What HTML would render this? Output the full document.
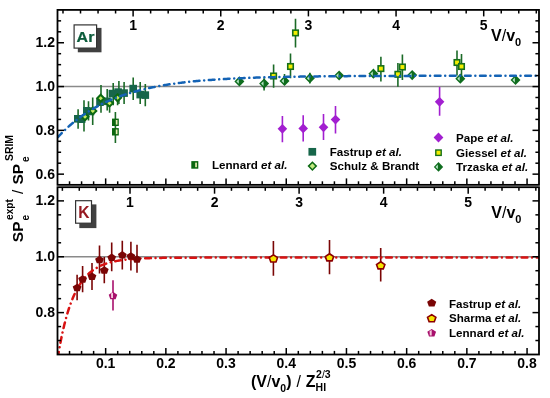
<!DOCTYPE html>
<html><head><meta charset="utf-8"><style>
html,body{margin:0;padding:0;background:#fff;}
svg{display:block;}
</style></head><body>
<svg width="550" height="398" viewBox="0 0 550 398" style="will-change:transform">
<rect width="550" height="398" fill="#fff"/>
<line x1="57.5" y1="86.55" x2="539" y2="86.55" stroke="#8a8a8a" stroke-width="1.5"/>
<line x1="57.5" y1="256.75" x2="539" y2="256.75" stroke="#8a8a8a" stroke-width="1.5"/>
<defs><clipPath id="ct"><rect x="57.5" y="9.9" width="481.5" height="175.2"/></clipPath><clipPath id="cb"><rect x="57.5" y="186.9" width="481.5" height="167.6"/></clipPath></defs>
<g clip-path="url(#ct)">
<line x1="78.1" y1="109.3" x2="78.1" y2="128.7" stroke="#1b6a27" stroke-width="1.6"/>
<line x1="84" y1="100.3" x2="84" y2="131.4" stroke="#1b6a27" stroke-width="1.6"/>
<line x1="88.5" y1="101.2" x2="88.5" y2="120.5" stroke="#1b6a27" stroke-width="1.6"/>
<line x1="92.7" y1="97.4" x2="92.7" y2="125.1" stroke="#1b6a27" stroke-width="1.6"/>
<line x1="101" y1="85" x2="101" y2="112.7" stroke="#1b6a27" stroke-width="1.6"/>
<line x1="107.2" y1="89" x2="107.2" y2="110.5" stroke="#1b6a27" stroke-width="1.6"/>
<line x1="109.6" y1="98.6" x2="109.6" y2="112.7" stroke="#1b6a27" stroke-width="1.6"/>
<line x1="113.2" y1="83" x2="113.2" y2="105.2" stroke="#1b6a27" stroke-width="1.6"/>
<line x1="117.6" y1="95" x2="117.6" y2="105.2" stroke="#1b6a27" stroke-width="1.6"/>
<line x1="118.9" y1="81" x2="118.9" y2="104.1" stroke="#1b6a27" stroke-width="1.6"/>
<line x1="124.1" y1="82" x2="124.1" y2="104.1" stroke="#1b6a27" stroke-width="1.6"/>
<line x1="133.2" y1="77.5" x2="133.2" y2="100.1" stroke="#1b6a27" stroke-width="1.6"/>
<line x1="140.2" y1="82" x2="140.2" y2="104.1" stroke="#1b6a27" stroke-width="1.6"/>
<line x1="145.3" y1="84" x2="145.3" y2="106.2" stroke="#1b6a27" stroke-width="1.6"/>
<line x1="264.1" y1="78.2" x2="264.1" y2="90.4" stroke="#1b6a27" stroke-width="1.6"/>
<line x1="284.5" y1="74.1" x2="284.5" y2="85" stroke="#1b6a27" stroke-width="1.6"/>
<line x1="309.9" y1="72.7" x2="309.9" y2="83.6" stroke="#1b6a27" stroke-width="1.6"/>
<line x1="273.6" y1="64.5" x2="273.6" y2="87.7" stroke="#1b6a27" stroke-width="1.6"/>
<line x1="290.5" y1="53.6" x2="290.5" y2="78.2" stroke="#1b6a27" stroke-width="1.6"/>
<line x1="295.5" y1="18.8" x2="295.5" y2="47.4" stroke="#1b6a27" stroke-width="1.6"/>
<line x1="380.9" y1="56.8" x2="380.9" y2="81.6" stroke="#1b6a27" stroke-width="1.6"/>
<line x1="397.9" y1="63" x2="397.9" y2="86.7" stroke="#1b6a27" stroke-width="1.6"/>
<line x1="402.4" y1="54.5" x2="402.4" y2="80" stroke="#1b6a27" stroke-width="1.6"/>
<line x1="457" y1="50.4" x2="457" y2="75.5" stroke="#1b6a27" stroke-width="1.6"/>
<line x1="461.5" y1="54" x2="461.5" y2="76.6" stroke="#1b6a27" stroke-width="1.6"/>
<line x1="115.4" y1="111.9" x2="115.4" y2="142.9" stroke="#1b6a27" stroke-width="1.6"/>
<line x1="282.4" y1="116" x2="282.4" y2="142.2" stroke="#a21fd0" stroke-width="1.6"/>
<line x1="303.2" y1="115.3" x2="303.2" y2="141.5" stroke="#a21fd0" stroke-width="1.6"/>
<line x1="323.5" y1="114.1" x2="323.5" y2="140" stroke="#a21fd0" stroke-width="1.6"/>
<line x1="335.5" y1="106.1" x2="335.5" y2="133.5" stroke="#a21fd0" stroke-width="1.6"/>
<line x1="439.6" y1="87" x2="439.6" y2="115.7" stroke="#a21fd0" stroke-width="1.6"/>
<rect x="74" y="115" width="7.6" height="7.6" fill="#17664a"/>
<rect x="77.8" y="115.4" width="7.6" height="7.6" fill="#17664a"/>
<rect x="83" y="107" width="7.6" height="7.6" fill="#17664a"/>
<rect x="86.7" y="107.7" width="7.6" height="7.6" fill="#17664a"/>
<rect x="96.2" y="98.4" width="7.6" height="7.6" fill="#17664a"/>
<rect x="103.2" y="97.5" width="7.6" height="7.6" fill="#17664a"/>
<rect x="108.6" y="89.8" width="7.6" height="7.6" fill="#17664a"/>
<rect x="114.3" y="88.3" width="7.6" height="7.6" fill="#17664a"/>
<rect x="120.3" y="89.3" width="7.6" height="7.6" fill="#17664a"/>
<rect x="129.4" y="84.8" width="7.6" height="7.6" fill="#17664a"/>
<rect x="136.4" y="90.8" width="7.6" height="7.6" fill="#17664a"/>
<rect x="141.5" y="91.3" width="7.6" height="7.6" fill="#17664a"/>
<polygon points="85,113.3 88.5,116.8 85,120.3 81.5,116.8" fill="#c6e860" stroke="#0b6a12" stroke-width="2.0" stroke-linejoin="miter"/>
<polygon points="92.8,107.4 96.3,110.9 92.8,114.4 89.3,110.9" fill="#c6e860" stroke="#0b6a12" stroke-width="2.0" stroke-linejoin="miter"/>
<polygon points="100.7,94.7 104.2,98.2 100.7,101.7 97.2,98.2" fill="#c6e860" stroke="#0b6a12" stroke-width="2.0" stroke-linejoin="miter"/>
<polygon points="109.5,99.6 113,103.1 109.5,106.6 106,103.1" fill="#c6e860" stroke="#0b6a12" stroke-width="2.0" stroke-linejoin="miter"/>
<polygon points="117.6,94.3 121.1,97.8 117.6,101.3 114.1,97.8" fill="#c6e860" stroke="#0b6a12" stroke-width="2.0" stroke-linejoin="miter"/>
<polygon points="239.4,76.3 244.4,81.4 239.4,86.5 234.4,81.4" fill="#0f6d1e"/>
<polygon points="236.4,81.4 238.8,79 238.8,83.8" fill="#b5e6c6"/>
<polygon points="264.1,78.5 269.1,83.6 264.1,88.7 259.1,83.6" fill="#0f6d1e"/>
<polygon points="261.1,83.6 263.5,81.2 263.5,86" fill="#b5e6c6"/>
<polygon points="284.5,75.8 289.5,80.9 284.5,86 279.5,80.9" fill="#0f6d1e"/>
<polygon points="281.5,80.9 283.9,78.5 283.9,83.3" fill="#b5e6c6"/>
<polygon points="309.9,73.1 314.9,78.2 309.9,83.3 304.9,78.2" fill="#0f6d1e"/>
<polygon points="306.9,78.2 309.3,75.8 309.3,80.6" fill="#b5e6c6"/>
<polygon points="339.1,70.4 344.1,75.5 339.1,80.6 334.1,75.5" fill="#0f6d1e"/>
<polygon points="336.1,75.5 338.5,73.1 338.5,77.9" fill="#b5e6c6"/>
<polygon points="373.4,68.6 378.4,73.7 373.4,78.8 368.4,73.7" fill="#0f6d1e"/>
<polygon points="370.4,73.7 372.8,71.3 372.8,76.1" fill="#b5e6c6"/>
<polygon points="412.2,70 417.2,75.1 412.2,80.2 407.2,75.1" fill="#0f6d1e"/>
<polygon points="409.2,75.1 411.6,72.7 411.6,77.5" fill="#b5e6c6"/>
<polygon points="460.3,73.6 465.3,78.7 460.3,83.8 455.3,78.7" fill="#0f6d1e"/>
<polygon points="457.3,78.7 459.7,76.3 459.7,81.1" fill="#b5e6c6"/>
<polygon points="515.5,74.9 520.5,80 515.5,85.1 510.5,80" fill="#0f6d1e"/>
<polygon points="512.5,80 514.9,77.6 514.9,82.4" fill="#b5e6c6"/>
<rect x="270.85" y="73.25" width="5.5" height="5.5" fill="#f2ee00" stroke="#16701a" stroke-width="1.6"/>
<rect x="287.75" y="63.75" width="5.5" height="5.5" fill="#f2ee00" stroke="#16701a" stroke-width="1.6"/>
<rect x="292.75" y="30.15" width="5.5" height="5.5" fill="#f2ee00" stroke="#16701a" stroke-width="1.6"/>
<rect x="378.15" y="65.85" width="5.5" height="5.5" fill="#f2ee00" stroke="#16701a" stroke-width="1.6"/>
<rect x="395.15" y="71.55" width="5.5" height="5.5" fill="#f2ee00" stroke="#16701a" stroke-width="1.6"/>
<rect x="399.65" y="64.25" width="5.5" height="5.5" fill="#f2ee00" stroke="#16701a" stroke-width="1.6"/>
<rect x="454.25" y="59.75" width="5.5" height="5.5" fill="#f2ee00" stroke="#16701a" stroke-width="1.6"/>
<rect x="458.75" y="63.75" width="5.5" height="5.5" fill="#f2ee00" stroke="#16701a" stroke-width="1.6"/>
<rect x="112" y="118.6" width="6.8" height="7.4" fill="#0b660f"/>
<rect x="115.8" y="120" width="1.7" height="4.6" fill="#e6ecb0"/>
<rect x="112" y="128.1" width="6.8" height="7.4" fill="#0b660f"/>
<rect x="115.8" y="129.5" width="1.7" height="4.6" fill="#e6ecb0"/>
<polygon points="282.4,123.9 287.2,128.8 282.4,133.7 277.6,128.8" fill="#a21fd0"/>
<polygon points="303.2,123.5 308,128.4 303.2,133.3 298.4,128.4" fill="#a21fd0"/>
<polygon points="323.5,122.4 328.3,127.3 323.5,132.2 318.7,127.3" fill="#a21fd0"/>
<polygon points="335.5,114.7 340.3,119.6 335.5,124.5 330.7,119.6" fill="#a21fd0"/>
<polygon points="439.6,96.9 444.4,101.8 439.6,106.7 434.8,101.8" fill="#a21fd0"/>
<polyline points="57.2,137.86 57.2,137.86 57.21,137.85 57.23,137.83 57.25,137.81 57.27,137.78 57.31,137.74 57.35,137.7 57.39,137.65 57.44,137.59 57.5,137.53 57.56,137.46 57.63,137.39 57.71,137.31 57.79,137.22 57.88,137.12 57.97,137.02 58.07,136.92 58.18,136.8 58.29,136.68 58.4,136.56 58.53,136.42 58.66,136.29 58.79,136.14 58.93,135.99 59.08,135.84 59.24,135.67 59.4,135.5 59.56,135.33 59.73,135.15 59.91,134.96 60.1,134.77 60.29,134.58 60.48,134.37 60.68,134.17 60.89,133.95 61.1,133.73 61.32,133.51 61.55,133.28 61.78,133.05 62.02,132.81 62.27,132.56 62.52,132.31 62.77,132.06 63.03,131.8 63.3,131.53 63.58,131.27 63.86,130.99 64.14,130.71 64.44,130.43 64.73,130.15 65.04,129.86 65.35,129.56 65.66,129.26 65.99,128.96 66.32,128.65 66.65,128.34 66.99,128.03 67.34,127.71 67.69,127.39 68.05,127.06 68.41,126.73 68.78,126.4 69.16,126.07 69.54,125.73 69.93,125.39 70.33,125.04 70.73,124.7 71.13,124.35 71.55,124 71.97,123.64 72.39,123.29 72.82,122.93 73.26,122.56 73.7,122.2 74.15,121.84 74.61,121.47 75.07,121.1 75.53,120.73 76.01,120.35 76.49,119.98 76.97,119.6 77.46,119.23 77.96,118.85 78.46,118.47 78.97,118.08 79.49,117.7 80.01,117.32 80.54,116.94 81.07,116.55 81.61,116.16 82.16,115.78 82.71,115.39 83.27,115 83.83,114.62 84.4,114.23 84.97,113.84 85.56,113.45 86.14,113.07 86.74,112.68 87.34,112.29 87.94,111.9 88.55,111.51 89.17,111.13 89.8,110.74 90.43,110.36 91.06,109.97 91.7,109.59 92.35,109.2 93.01,108.82 93.67,108.44 94.33,108.06 95,107.68 95.68,107.3 96.37,106.92 97.06,106.54 97.75,106.17 98.45,105.79 99.16,105.42 99.88,105.05 100.6,104.68 101.32,104.32 102.06,103.95 102.79,103.59 103.54,103.22 104.29,102.86 105.05,102.5 105.81,102.15 106.58,101.79 107.35,101.44 108.13,101.09 108.92,100.74 109.71,100.39 110.51,100.05 111.31,99.71 112.12,99.37 112.94,99.03 113.76,98.7 114.59,98.36 115.43,98.04 116.27,97.71 117.12,97.38 117.97,97.06 118.83,96.74 119.69,96.42 120.56,96.11 121.44,95.8 122.32,95.49 123.21,95.18 124.11,94.88 125.01,94.58 125.92,94.28 126.83,93.98 127.75,93.69 128.67,93.4 129.6,93.11 130.54,92.83 131.49,92.55 132.43,92.27 133.39,91.99 134.35,91.72 135.32,91.45 136.29,91.19 137.27,90.92 138.26,90.66 139.25,90.4 140.25,90.15 141.25,89.9 142.26,89.65 143.28,89.4 144.3,89.16 145.32,88.92 146.36,88.68 147.4,88.44 148.44,88.21 149.5,87.98 150.55,87.76 151.62,87.54 152.69,87.32 153.76,87.1 154.84,86.89 155.93,86.67 157.03,86.47 158.13,86.26 159.23,86.06 160.35,85.86 161.46,85.66 162.59,85.47 163.72,85.28 164.85,85.09 166,84.9 167.14,84.72 168.3,84.54 169.46,84.36 170.62,84.19 171.8,84.01 172.98,83.84 174.16,83.68 175.35,83.51 176.55,83.35 177.75,83.19 178.96,83.03 180.17,82.88 181.39,82.73 182.62,82.58 183.85,82.43 185.09,82.29 186.34,82.15 187.59,82.01 188.84,81.87 190.11,81.74 191.37,81.61 192.65,81.48 193.93,81.35 195.22,81.22 196.51,81.1 197.81,80.98 199.11,80.86 200.43,80.74 201.74,80.63 203.07,80.52 204.39,80.41 205.73,80.3 207.07,80.19 208.42,80.09 209.77,79.99 211.13,79.89 212.5,79.79 213.87,79.69 215.24,79.6 216.63,79.5 218.02,79.41 219.41,79.33 220.81,79.24 222.22,79.15 223.63,79.07 225.05,78.99 226.48,78.91 227.91,78.83 229.35,78.75 230.79,78.68 232.24,78.6 233.7,78.53 235.16,78.46 236.63,78.39 238.1,78.32 239.58,78.26 241.07,78.19 242.56,78.13 244.06,78.07 245.56,78.01 247.07,77.95 248.58,77.89 250.11,77.83 251.63,77.78 253.17,77.72 254.71,77.67 256.25,77.62 257.81,77.57 259.37,77.52 260.93,77.47 262.5,77.43 264.08,77.38 265.66,77.34 267.25,77.29 268.84,77.25 270.44,77.21 272.05,77.17 273.66,77.13 275.28,77.09 276.9,77.05 278.53,77.01 280.17,76.98 281.81,76.94 283.46,76.91 285.11,76.88 286.78,76.84 288.44,76.81 290.11,76.78 291.79,76.75 293.48,76.72 295.17,76.69 296.87,76.67 298.57,76.64 300.28,76.61 301.99,76.59 303.71,76.56 305.44,76.54 307.17,76.52 308.91,76.49 310.66,76.47 312.41,76.45 314.16,76.43 315.93,76.41 317.7,76.39 319.47,76.37 321.25,76.35 323.04,76.33 324.83,76.31 326.63,76.29 328.44,76.28 330.25,76.26 332.07,76.24 333.89,76.23 335.72,76.21 337.55,76.2 339.4,76.19 341.24,76.17 343.1,76.16 344.96,76.15 346.82,76.13 348.69,76.12 350.57,76.11 352.45,76.1 354.34,76.09 356.24,76.07 358.14,76.06 360.05,76.05 361.96,76.04 363.88,76.03 365.81,76.02 367.74,76.02 369.68,76.01 371.62,76 373.57,75.99 375.53,75.98 377.49,75.97 379.46,75.97 381.43,75.96 383.41,75.95 385.4,75.95 387.39,75.94 389.39,75.93 391.39,75.93 393.4,75.92 395.42,75.91 397.44,75.91 399.47,75.9 401.5,75.9 403.54,75.89 405.59,75.89 407.64,75.88 409.7,75.88 411.77,75.87 413.84,75.87 415.91,75.87 417.99,75.86 420.08,75.86 422.18,75.85 424.28,75.85 426.38,75.85 428.5,75.84 430.62,75.84 432.74,75.84 434.87,75.83 437.01,75.83 439.15,75.83 441.3,75.83 443.45,75.82 445.62,75.82 447.78,75.82 449.96,75.81 452.13,75.81 454.32,75.81 456.51,75.81 458.71,75.81 460.91,75.8 463.12,75.8 465.33,75.8 467.56,75.8 469.78,75.8 472.02,75.8 474.26,75.79 476.5,75.79 478.75,75.79 481.01,75.79 483.27,75.79 485.54,75.79 487.82,75.78 490.1,75.78 492.39,75.78 494.68,75.78 496.98,75.78 499.28,75.78 501.6,75.78 503.91,75.78 506.24,75.78 508.57,75.78 510.9,75.77 513.24,75.77 515.59,75.77 517.95,75.77 520.31,75.77 522.67,75.77 525.04,75.77 527.42,75.77 529.81,75.77 532.2,75.77 534.59,75.77 536.99,75.77 539.4,75.77" fill="none" stroke="#1463b5" stroke-width="2.5" stroke-linecap="round" stroke-dasharray="5.7 4.68 0.01 4.68" stroke-dashoffset="-0.9"/>
</g>
<g clip-path="url(#cb)">
<line x1="77.1" y1="274.8" x2="77.1" y2="300.3" stroke="#7a0505" stroke-width="1.6"/>
<line x1="82.6" y1="265.9" x2="82.6" y2="292.3" stroke="#7a0505" stroke-width="1.6"/>
<line x1="92" y1="262.9" x2="92" y2="290" stroke="#7a0505" stroke-width="1.6"/>
<line x1="99.5" y1="245.6" x2="99.5" y2="273.5" stroke="#7a0505" stroke-width="1.6"/>
<line x1="104.3" y1="256.9" x2="104.3" y2="283.3" stroke="#7a0505" stroke-width="1.6"/>
<line x1="111.7" y1="242.5" x2="111.7" y2="271.2" stroke="#7a0505" stroke-width="1.6"/>
<line x1="122.3" y1="240.7" x2="122.3" y2="269.4" stroke="#7a0505" stroke-width="1.6"/>
<line x1="130.9" y1="241.8" x2="130.9" y2="270.4" stroke="#7a0505" stroke-width="1.6"/>
<line x1="137" y1="244.8" x2="137" y2="272.7" stroke="#7a0505" stroke-width="1.6"/>
<line x1="273.4" y1="241" x2="273.4" y2="275.7" stroke="#7a0505" stroke-width="1.6"/>
<line x1="329.5" y1="240.1" x2="329.5" y2="274.3" stroke="#7a0505" stroke-width="1.6"/>
<line x1="380.7" y1="248.1" x2="380.7" y2="281.5" stroke="#7a0505" stroke-width="1.6"/>
<line x1="113" y1="280.2" x2="113" y2="310.4" stroke="#a8106c" stroke-width="1.6"/>
<polyline points="57.2,361.6 57.2,361.58 57.21,361.52 57.23,361.42 57.25,361.28 57.27,361.11 57.31,360.89 57.35,360.64 57.39,360.35 57.44,360.02 57.5,359.66 57.56,359.26 57.63,358.82 57.71,358.34 57.79,357.83 57.88,357.29 57.97,356.71 58.07,356.1 58.18,355.46 58.29,354.78 58.4,354.08 58.53,353.34 58.66,352.57 58.79,351.78 58.93,350.96 59.08,350.11 59.24,349.23 59.4,348.34 59.56,347.41 59.73,346.47 59.91,345.5 60.1,344.51 60.29,343.5 60.48,342.47 60.68,341.43 60.89,340.36 61.1,339.29 61.32,338.19 61.55,337.09 61.78,335.97 62.02,334.84 62.27,333.7 62.52,332.55 62.77,331.39 63.03,330.22 63.3,329.05 63.58,327.87 63.86,326.68 64.14,325.5 64.44,324.31 64.73,323.12 65.04,321.92 65.35,320.73 65.66,319.54 65.99,318.35 66.32,317.16 66.65,315.98 66.99,314.8 67.34,313.62 67.69,312.45 68.05,311.29 68.41,310.13 68.78,308.99 69.16,307.85 69.54,306.71 69.93,305.59 70.33,304.48 70.73,303.38 71.13,302.29 71.55,301.21 71.97,300.14 72.39,299.09 72.82,298.05 73.26,297.02 73.7,296.01 74.15,295 74.61,294.02 75.07,293.05 75.53,292.09 76.01,291.15 76.49,290.22 76.97,289.31 77.46,288.41 77.96,287.53 78.46,286.67 78.97,285.82 79.49,284.99 80.01,284.17 80.54,283.37 81.07,282.58 81.61,281.82 82.16,281.06 82.71,280.33 83.27,279.61 83.83,278.9 84.4,278.22 84.97,277.55 85.56,276.89 86.14,276.25 86.74,275.63 87.34,275.02 87.94,274.42 88.55,273.84 89.17,273.28 89.8,272.73 90.43,272.2 91.06,271.68 91.7,271.17 92.35,270.68 93.01,270.2 93.67,269.74 94.33,269.29 95,268.85 95.68,268.43 96.37,268.02 97.06,267.62 97.75,267.23 98.45,266.86 99.16,266.5 99.88,266.15 100.6,265.81 101.32,265.48 102.06,265.16 102.79,264.85 103.54,264.56 104.29,264.27 105.05,263.99 105.81,263.72 106.58,263.47 107.35,263.22 108.13,262.98 108.92,262.75 109.71,262.52 110.51,262.31 111.31,262.1 112.12,261.91 112.94,261.71 113.76,261.53 114.59,261.35 115.43,261.18 116.27,261.02 117.12,260.86 117.97,260.71 118.83,260.57 119.69,260.43 120.56,260.3 121.44,260.17 122.32,260.05 123.21,259.93 124.11,259.82 125.01,259.71 125.92,259.61 126.83,259.51 127.75,259.41 128.67,259.32 129.6,259.24 130.54,259.15 131.49,259.08 132.43,259 133.39,258.93 134.35,258.86 135.32,258.79 136.29,258.73 137.27,258.67 138.26,258.62 139.25,258.56 140.25,258.51 141.25,258.46 142.26,258.41 143.28,258.37 144.3,258.33 145.32,258.29 146.36,258.25 147.4,258.21 148.44,258.18 149.5,258.15 150.55,258.11 151.62,258.09 152.69,258.06 153.76,258.03 154.84,258.01 155.93,257.98 157.03,257.96 158.13,257.94 159.23,257.92 160.35,257.9 161.46,257.88 162.59,257.86 163.72,257.85 164.85,257.83 166,257.82 167.14,257.8 168.3,257.79 169.46,257.78 170.62,257.77 171.8,257.75 172.98,257.74 174.16,257.73 175.35,257.72 176.55,257.72 177.75,257.71 178.96,257.7 180.17,257.69 181.39,257.69 182.62,257.68 183.85,257.67 185.09,257.67 186.34,257.66 187.59,257.66 188.84,257.65 190.11,257.65 191.37,257.64 192.65,257.64 193.93,257.64 195.22,257.63 196.51,257.63 197.81,257.63 199.11,257.62 200.43,257.62 201.74,257.62 203.07,257.62 204.39,257.61 205.73,257.61 207.07,257.61 208.42,257.61 209.77,257.61 211.13,257.6 212.5,257.6 213.87,257.6 215.24,257.6 216.63,257.6 218.02,257.6 219.41,257.6 220.81,257.6 222.22,257.6 223.63,257.59 225.05,257.59 226.48,257.59 227.91,257.59 229.35,257.59 230.79,257.59 232.24,257.59 233.7,257.59 235.16,257.59 236.63,257.59 238.1,257.59 239.58,257.59 241.07,257.59 242.56,257.59 244.06,257.59 245.56,257.59 247.07,257.59 248.58,257.59 250.11,257.59 251.63,257.59 253.17,257.59 254.71,257.59 256.25,257.59 257.81,257.58 259.37,257.58 260.93,257.58 262.5,257.58 264.08,257.58 265.66,257.58 267.25,257.58 268.84,257.58 270.44,257.58 272.05,257.58 273.66,257.58 275.28,257.58 276.9,257.58 278.53,257.58 280.17,257.58 281.81,257.58 283.46,257.58 285.11,257.58 286.78,257.58 288.44,257.58 290.11,257.58 291.79,257.58 293.48,257.58 295.17,257.58 296.87,257.58 298.57,257.58 300.28,257.58 301.99,257.58 303.71,257.58 305.44,257.58 307.17,257.58 308.91,257.58 310.66,257.58 312.41,257.58 314.16,257.58 315.93,257.58 317.7,257.58 319.47,257.58 321.25,257.58 323.04,257.58 324.83,257.58 326.63,257.58 328.44,257.58 330.25,257.58 332.07,257.58 333.89,257.58 335.72,257.58 337.55,257.58 339.4,257.58 341.24,257.58 343.1,257.58 344.96,257.58 346.82,257.58 348.69,257.58 350.57,257.58 352.45,257.58 354.34,257.58 356.24,257.58 358.14,257.58 360.05,257.58 361.96,257.58 363.88,257.58 365.81,257.58 367.74,257.58 369.68,257.58 371.62,257.58 373.57,257.58 375.53,257.58 377.49,257.58 379.46,257.58 381.43,257.58 383.41,257.58 385.4,257.58 387.39,257.58 389.39,257.58 391.39,257.58 393.4,257.58 395.42,257.58 397.44,257.58 399.47,257.58 401.5,257.58 403.54,257.58 405.59,257.58 407.64,257.58 409.7,257.58 411.77,257.58 413.84,257.58 415.91,257.58 417.99,257.58 420.08,257.58 422.18,257.58 424.28,257.58 426.38,257.58 428.5,257.58 430.62,257.58 432.74,257.58 434.87,257.58 437.01,257.58 439.15,257.58 441.3,257.58 443.45,257.58 445.62,257.58 447.78,257.58 449.96,257.58 452.13,257.58 454.32,257.58 456.51,257.58 458.71,257.58 460.91,257.58 463.12,257.58 465.33,257.58 467.56,257.58 469.78,257.58 472.02,257.58 474.26,257.58 476.5,257.58 478.75,257.58 481.01,257.58 483.27,257.58 485.54,257.58 487.82,257.58 490.1,257.58 492.39,257.58 494.68,257.58 496.98,257.58 499.28,257.58 501.6,257.58 503.91,257.58 506.24,257.58 508.57,257.58 510.9,257.58 513.24,257.58 515.59,257.58 517.95,257.58 520.31,257.58 522.67,257.58 525.04,257.58 527.42,257.58 529.81,257.58 532.2,257.58 534.59,257.58 536.99,257.58 539.4,257.58" fill="none" stroke="#d81212" stroke-width="2.5" stroke-linecap="round" stroke-dasharray="5.7 4.675 0.01 4.675" stroke-dashoffset="-4.1"/>
<polygon points="77.1,283.76 81.47,286.62 79.8,291.25 74.4,291.25 72.73,286.62" fill="#7a0505"/>
<polygon points="82.6,275.16 86.97,278.02 85.3,282.65 79.9,282.65 78.23,278.02" fill="#7a0505"/>
<polygon points="92,272.46 96.37,275.32 94.7,279.95 89.3,279.95 87.63,275.32" fill="#7a0505"/>
<polygon points="99.5,255.86 103.87,258.72 102.2,263.35 96.8,263.35 95.13,258.72" fill="#7a0505"/>
<polygon points="104.3,266.26 108.67,269.12 107,273.75 101.6,273.75 99.93,269.12" fill="#7a0505"/>
<polygon points="111.7,253.56 116.07,256.42 114.4,261.05 109,261.05 107.33,256.42" fill="#7a0505"/>
<polygon points="122.3,251.06 126.67,253.92 125,258.55 119.6,258.55 117.93,253.92" fill="#7a0505"/>
<polygon points="130.9,252.26 135.27,255.12 133.6,259.75 128.2,259.75 126.53,255.12" fill="#7a0505"/>
<polygon points="137,255.26 141.37,258.12 139.7,262.75 134.3,262.75 132.63,258.12" fill="#7a0505"/>
<polygon points="273.4,254.84 277.58,257.58 275.99,262 270.81,262 269.22,257.58" fill="#f6e600" stroke="#8c0000" stroke-width="1.6"/>
<polygon points="329.5,253.74 333.68,256.48 332.09,260.9 326.91,260.9 325.32,256.48" fill="#f6e600" stroke="#8c0000" stroke-width="1.6"/>
<polygon points="380.7,261.74 384.88,264.48 383.29,268.9 378.11,268.9 376.52,264.48" fill="#f6e600" stroke="#8c0000" stroke-width="1.6"/>
<polygon points="113,291.85 117.28,294.65 115.65,299.18 110.35,299.18 108.72,294.65" fill="#a8106c"/>
<polygon points="111,293.5 113,292.5 113,298 111.2,298" fill="#f4c8dc"/>
</g>
<line x1="69.54" y1="184.9" x2="69.54" y2="181.3" stroke="#000" stroke-width="1.5"/>
<line x1="81.58" y1="184.9" x2="81.58" y2="181.3" stroke="#000" stroke-width="1.5"/>
<line x1="93.62" y1="184.9" x2="93.62" y2="181.3" stroke="#000" stroke-width="1.5"/>
<line x1="105.66" y1="184.9" x2="105.66" y2="178.4" stroke="#000" stroke-width="1.5"/>
<line x1="117.7" y1="184.9" x2="117.7" y2="181.3" stroke="#000" stroke-width="1.5"/>
<line x1="129.74" y1="184.9" x2="129.74" y2="181.3" stroke="#000" stroke-width="1.5"/>
<line x1="141.78" y1="184.9" x2="141.78" y2="181.3" stroke="#000" stroke-width="1.5"/>
<line x1="153.82" y1="184.9" x2="153.82" y2="181.3" stroke="#000" stroke-width="1.5"/>
<line x1="165.86" y1="184.9" x2="165.86" y2="178.4" stroke="#000" stroke-width="1.5"/>
<line x1="177.9" y1="184.9" x2="177.9" y2="181.3" stroke="#000" stroke-width="1.5"/>
<line x1="189.94" y1="184.9" x2="189.94" y2="181.3" stroke="#000" stroke-width="1.5"/>
<line x1="201.98" y1="184.9" x2="201.98" y2="181.3" stroke="#000" stroke-width="1.5"/>
<line x1="214.02" y1="184.9" x2="214.02" y2="181.3" stroke="#000" stroke-width="1.5"/>
<line x1="226.06" y1="184.9" x2="226.06" y2="178.4" stroke="#000" stroke-width="1.5"/>
<line x1="238.1" y1="184.9" x2="238.1" y2="181.3" stroke="#000" stroke-width="1.5"/>
<line x1="250.14" y1="184.9" x2="250.14" y2="181.3" stroke="#000" stroke-width="1.5"/>
<line x1="262.18" y1="184.9" x2="262.18" y2="181.3" stroke="#000" stroke-width="1.5"/>
<line x1="274.22" y1="184.9" x2="274.22" y2="181.3" stroke="#000" stroke-width="1.5"/>
<line x1="286.26" y1="184.9" x2="286.26" y2="178.4" stroke="#000" stroke-width="1.5"/>
<line x1="298.3" y1="184.9" x2="298.3" y2="181.3" stroke="#000" stroke-width="1.5"/>
<line x1="310.34" y1="184.9" x2="310.34" y2="181.3" stroke="#000" stroke-width="1.5"/>
<line x1="322.38" y1="184.9" x2="322.38" y2="181.3" stroke="#000" stroke-width="1.5"/>
<line x1="334.42" y1="184.9" x2="334.42" y2="181.3" stroke="#000" stroke-width="1.5"/>
<line x1="346.46" y1="184.9" x2="346.46" y2="178.4" stroke="#000" stroke-width="1.5"/>
<line x1="358.5" y1="184.9" x2="358.5" y2="181.3" stroke="#000" stroke-width="1.5"/>
<line x1="370.54" y1="184.9" x2="370.54" y2="181.3" stroke="#000" stroke-width="1.5"/>
<line x1="382.58" y1="184.9" x2="382.58" y2="181.3" stroke="#000" stroke-width="1.5"/>
<line x1="394.62" y1="184.9" x2="394.62" y2="181.3" stroke="#000" stroke-width="1.5"/>
<line x1="406.66" y1="184.9" x2="406.66" y2="178.4" stroke="#000" stroke-width="1.5"/>
<line x1="418.7" y1="184.9" x2="418.7" y2="181.3" stroke="#000" stroke-width="1.5"/>
<line x1="430.74" y1="184.9" x2="430.74" y2="181.3" stroke="#000" stroke-width="1.5"/>
<line x1="442.78" y1="184.9" x2="442.78" y2="181.3" stroke="#000" stroke-width="1.5"/>
<line x1="454.82" y1="184.9" x2="454.82" y2="181.3" stroke="#000" stroke-width="1.5"/>
<line x1="466.86" y1="184.9" x2="466.86" y2="178.4" stroke="#000" stroke-width="1.5"/>
<line x1="478.9" y1="184.9" x2="478.9" y2="181.3" stroke="#000" stroke-width="1.5"/>
<line x1="490.94" y1="184.9" x2="490.94" y2="181.3" stroke="#000" stroke-width="1.5"/>
<line x1="502.98" y1="184.9" x2="502.98" y2="181.3" stroke="#000" stroke-width="1.5"/>
<line x1="515.02" y1="184.9" x2="515.02" y2="181.3" stroke="#000" stroke-width="1.5"/>
<line x1="527.06" y1="184.9" x2="527.06" y2="178.4" stroke="#000" stroke-width="1.5"/>
<line x1="69.54" y1="354.5" x2="69.54" y2="350.9" stroke="#000" stroke-width="1.5"/>
<line x1="81.58" y1="354.5" x2="81.58" y2="350.9" stroke="#000" stroke-width="1.5"/>
<line x1="93.62" y1="354.5" x2="93.62" y2="350.9" stroke="#000" stroke-width="1.5"/>
<line x1="105.66" y1="354.5" x2="105.66" y2="348" stroke="#000" stroke-width="1.5"/>
<line x1="117.7" y1="354.5" x2="117.7" y2="350.9" stroke="#000" stroke-width="1.5"/>
<line x1="129.74" y1="354.5" x2="129.74" y2="350.9" stroke="#000" stroke-width="1.5"/>
<line x1="141.78" y1="354.5" x2="141.78" y2="350.9" stroke="#000" stroke-width="1.5"/>
<line x1="153.82" y1="354.5" x2="153.82" y2="350.9" stroke="#000" stroke-width="1.5"/>
<line x1="165.86" y1="354.5" x2="165.86" y2="348" stroke="#000" stroke-width="1.5"/>
<line x1="177.9" y1="354.5" x2="177.9" y2="350.9" stroke="#000" stroke-width="1.5"/>
<line x1="189.94" y1="354.5" x2="189.94" y2="350.9" stroke="#000" stroke-width="1.5"/>
<line x1="201.98" y1="354.5" x2="201.98" y2="350.9" stroke="#000" stroke-width="1.5"/>
<line x1="214.02" y1="354.5" x2="214.02" y2="350.9" stroke="#000" stroke-width="1.5"/>
<line x1="226.06" y1="354.5" x2="226.06" y2="348" stroke="#000" stroke-width="1.5"/>
<line x1="238.1" y1="354.5" x2="238.1" y2="350.9" stroke="#000" stroke-width="1.5"/>
<line x1="250.14" y1="354.5" x2="250.14" y2="350.9" stroke="#000" stroke-width="1.5"/>
<line x1="262.18" y1="354.5" x2="262.18" y2="350.9" stroke="#000" stroke-width="1.5"/>
<line x1="274.22" y1="354.5" x2="274.22" y2="350.9" stroke="#000" stroke-width="1.5"/>
<line x1="286.26" y1="354.5" x2="286.26" y2="348" stroke="#000" stroke-width="1.5"/>
<line x1="298.3" y1="354.5" x2="298.3" y2="350.9" stroke="#000" stroke-width="1.5"/>
<line x1="310.34" y1="354.5" x2="310.34" y2="350.9" stroke="#000" stroke-width="1.5"/>
<line x1="322.38" y1="354.5" x2="322.38" y2="350.9" stroke="#000" stroke-width="1.5"/>
<line x1="334.42" y1="354.5" x2="334.42" y2="350.9" stroke="#000" stroke-width="1.5"/>
<line x1="346.46" y1="354.5" x2="346.46" y2="348" stroke="#000" stroke-width="1.5"/>
<line x1="358.5" y1="354.5" x2="358.5" y2="350.9" stroke="#000" stroke-width="1.5"/>
<line x1="370.54" y1="354.5" x2="370.54" y2="350.9" stroke="#000" stroke-width="1.5"/>
<line x1="382.58" y1="354.5" x2="382.58" y2="350.9" stroke="#000" stroke-width="1.5"/>
<line x1="394.62" y1="354.5" x2="394.62" y2="350.9" stroke="#000" stroke-width="1.5"/>
<line x1="406.66" y1="354.5" x2="406.66" y2="348" stroke="#000" stroke-width="1.5"/>
<line x1="418.7" y1="354.5" x2="418.7" y2="350.9" stroke="#000" stroke-width="1.5"/>
<line x1="430.74" y1="354.5" x2="430.74" y2="350.9" stroke="#000" stroke-width="1.5"/>
<line x1="442.78" y1="354.5" x2="442.78" y2="350.9" stroke="#000" stroke-width="1.5"/>
<line x1="454.82" y1="354.5" x2="454.82" y2="350.9" stroke="#000" stroke-width="1.5"/>
<line x1="466.86" y1="354.5" x2="466.86" y2="348" stroke="#000" stroke-width="1.5"/>
<line x1="478.9" y1="354.5" x2="478.9" y2="350.9" stroke="#000" stroke-width="1.5"/>
<line x1="490.94" y1="354.5" x2="490.94" y2="350.9" stroke="#000" stroke-width="1.5"/>
<line x1="502.98" y1="354.5" x2="502.98" y2="350.9" stroke="#000" stroke-width="1.5"/>
<line x1="515.02" y1="354.5" x2="515.02" y2="350.9" stroke="#000" stroke-width="1.5"/>
<line x1="527.06" y1="354.5" x2="527.06" y2="348" stroke="#000" stroke-width="1.5"/>
<line x1="62.99" y1="9.9" x2="62.99" y2="13.5" stroke="#000" stroke-width="1.5"/>
<line x1="80.52" y1="9.9" x2="80.52" y2="13.5" stroke="#000" stroke-width="1.5"/>
<line x1="98.05" y1="9.9" x2="98.05" y2="13.5" stroke="#000" stroke-width="1.5"/>
<line x1="115.58" y1="9.9" x2="115.58" y2="13.5" stroke="#000" stroke-width="1.5"/>
<line x1="133.11" y1="9.9" x2="133.11" y2="16.4" stroke="#000" stroke-width="1.5"/>
<line x1="150.64" y1="9.9" x2="150.64" y2="13.5" stroke="#000" stroke-width="1.5"/>
<line x1="168.17" y1="9.9" x2="168.17" y2="13.5" stroke="#000" stroke-width="1.5"/>
<line x1="185.7" y1="9.9" x2="185.7" y2="13.5" stroke="#000" stroke-width="1.5"/>
<line x1="203.23" y1="9.9" x2="203.23" y2="13.5" stroke="#000" stroke-width="1.5"/>
<line x1="220.76" y1="9.9" x2="220.76" y2="16.4" stroke="#000" stroke-width="1.5"/>
<line x1="238.29" y1="9.9" x2="238.29" y2="13.5" stroke="#000" stroke-width="1.5"/>
<line x1="255.82" y1="9.9" x2="255.82" y2="13.5" stroke="#000" stroke-width="1.5"/>
<line x1="273.35" y1="9.9" x2="273.35" y2="13.5" stroke="#000" stroke-width="1.5"/>
<line x1="290.88" y1="9.9" x2="290.88" y2="13.5" stroke="#000" stroke-width="1.5"/>
<line x1="308.41" y1="9.9" x2="308.41" y2="16.4" stroke="#000" stroke-width="1.5"/>
<line x1="325.94" y1="9.9" x2="325.94" y2="13.5" stroke="#000" stroke-width="1.5"/>
<line x1="343.47" y1="9.9" x2="343.47" y2="13.5" stroke="#000" stroke-width="1.5"/>
<line x1="361" y1="9.9" x2="361" y2="13.5" stroke="#000" stroke-width="1.5"/>
<line x1="378.53" y1="9.9" x2="378.53" y2="13.5" stroke="#000" stroke-width="1.5"/>
<line x1="396.06" y1="9.9" x2="396.06" y2="16.4" stroke="#000" stroke-width="1.5"/>
<line x1="413.59" y1="9.9" x2="413.59" y2="13.5" stroke="#000" stroke-width="1.5"/>
<line x1="431.12" y1="9.9" x2="431.12" y2="13.5" stroke="#000" stroke-width="1.5"/>
<line x1="448.65" y1="9.9" x2="448.65" y2="13.5" stroke="#000" stroke-width="1.5"/>
<line x1="466.18" y1="9.9" x2="466.18" y2="13.5" stroke="#000" stroke-width="1.5"/>
<line x1="483.71" y1="9.9" x2="483.71" y2="16.4" stroke="#000" stroke-width="1.5"/>
<line x1="501.24" y1="9.9" x2="501.24" y2="13.5" stroke="#000" stroke-width="1.5"/>
<line x1="518.77" y1="9.9" x2="518.77" y2="13.5" stroke="#000" stroke-width="1.5"/>
<line x1="536.3" y1="9.9" x2="536.3" y2="13.5" stroke="#000" stroke-width="1.5"/>
<line x1="62.37" y1="187.2" x2="62.37" y2="190.8" stroke="#000" stroke-width="1.5"/>
<line x1="79.28" y1="187.2" x2="79.28" y2="190.8" stroke="#000" stroke-width="1.5"/>
<line x1="96.19" y1="187.2" x2="96.19" y2="190.8" stroke="#000" stroke-width="1.5"/>
<line x1="113.1" y1="187.2" x2="113.1" y2="190.8" stroke="#000" stroke-width="1.5"/>
<line x1="130.01" y1="187.2" x2="130.01" y2="193.7" stroke="#000" stroke-width="1.5"/>
<line x1="146.92" y1="187.2" x2="146.92" y2="190.8" stroke="#000" stroke-width="1.5"/>
<line x1="163.82" y1="187.2" x2="163.82" y2="190.8" stroke="#000" stroke-width="1.5"/>
<line x1="180.73" y1="187.2" x2="180.73" y2="190.8" stroke="#000" stroke-width="1.5"/>
<line x1="197.64" y1="187.2" x2="197.64" y2="190.8" stroke="#000" stroke-width="1.5"/>
<line x1="214.55" y1="187.2" x2="214.55" y2="193.7" stroke="#000" stroke-width="1.5"/>
<line x1="231.46" y1="187.2" x2="231.46" y2="190.8" stroke="#000" stroke-width="1.5"/>
<line x1="248.37" y1="187.2" x2="248.37" y2="190.8" stroke="#000" stroke-width="1.5"/>
<line x1="265.28" y1="187.2" x2="265.28" y2="190.8" stroke="#000" stroke-width="1.5"/>
<line x1="282.19" y1="187.2" x2="282.19" y2="190.8" stroke="#000" stroke-width="1.5"/>
<line x1="299.1" y1="187.2" x2="299.1" y2="193.7" stroke="#000" stroke-width="1.5"/>
<line x1="316.01" y1="187.2" x2="316.01" y2="190.8" stroke="#000" stroke-width="1.5"/>
<line x1="332.92" y1="187.2" x2="332.92" y2="190.8" stroke="#000" stroke-width="1.5"/>
<line x1="349.83" y1="187.2" x2="349.83" y2="190.8" stroke="#000" stroke-width="1.5"/>
<line x1="366.74" y1="187.2" x2="366.74" y2="190.8" stroke="#000" stroke-width="1.5"/>
<line x1="383.64" y1="187.2" x2="383.64" y2="193.7" stroke="#000" stroke-width="1.5"/>
<line x1="400.55" y1="187.2" x2="400.55" y2="190.8" stroke="#000" stroke-width="1.5"/>
<line x1="417.46" y1="187.2" x2="417.46" y2="190.8" stroke="#000" stroke-width="1.5"/>
<line x1="434.37" y1="187.2" x2="434.37" y2="190.8" stroke="#000" stroke-width="1.5"/>
<line x1="451.28" y1="187.2" x2="451.28" y2="190.8" stroke="#000" stroke-width="1.5"/>
<line x1="468.19" y1="187.2" x2="468.19" y2="193.7" stroke="#000" stroke-width="1.5"/>
<line x1="485.1" y1="187.2" x2="485.1" y2="190.8" stroke="#000" stroke-width="1.5"/>
<line x1="502.01" y1="187.2" x2="502.01" y2="190.8" stroke="#000" stroke-width="1.5"/>
<line x1="518.92" y1="187.2" x2="518.92" y2="190.8" stroke="#000" stroke-width="1.5"/>
<line x1="535.83" y1="187.2" x2="535.83" y2="190.8" stroke="#000" stroke-width="1.5"/>
<line x1="57.5" y1="174.15" x2="64" y2="174.15" stroke="#000" stroke-width="1.5"/>
<line x1="539" y1="174.15" x2="532.5" y2="174.15" stroke="#000" stroke-width="1.5"/>
<line x1="57.5" y1="163.2" x2="61.1" y2="163.2" stroke="#000" stroke-width="1.5"/>
<line x1="539" y1="163.2" x2="535.4" y2="163.2" stroke="#000" stroke-width="1.5"/>
<line x1="57.5" y1="152.25" x2="61.1" y2="152.25" stroke="#000" stroke-width="1.5"/>
<line x1="539" y1="152.25" x2="535.4" y2="152.25" stroke="#000" stroke-width="1.5"/>
<line x1="57.5" y1="141.3" x2="61.1" y2="141.3" stroke="#000" stroke-width="1.5"/>
<line x1="539" y1="141.3" x2="535.4" y2="141.3" stroke="#000" stroke-width="1.5"/>
<line x1="57.5" y1="130.35" x2="64" y2="130.35" stroke="#000" stroke-width="1.5"/>
<line x1="539" y1="130.35" x2="532.5" y2="130.35" stroke="#000" stroke-width="1.5"/>
<line x1="57.5" y1="119.4" x2="61.1" y2="119.4" stroke="#000" stroke-width="1.5"/>
<line x1="539" y1="119.4" x2="535.4" y2="119.4" stroke="#000" stroke-width="1.5"/>
<line x1="57.5" y1="108.45" x2="61.1" y2="108.45" stroke="#000" stroke-width="1.5"/>
<line x1="539" y1="108.45" x2="535.4" y2="108.45" stroke="#000" stroke-width="1.5"/>
<line x1="57.5" y1="97.5" x2="61.1" y2="97.5" stroke="#000" stroke-width="1.5"/>
<line x1="539" y1="97.5" x2="535.4" y2="97.5" stroke="#000" stroke-width="1.5"/>
<line x1="57.5" y1="86.55" x2="64" y2="86.55" stroke="#000" stroke-width="1.5"/>
<line x1="539" y1="86.55" x2="532.5" y2="86.55" stroke="#000" stroke-width="1.5"/>
<line x1="57.5" y1="75.6" x2="61.1" y2="75.6" stroke="#000" stroke-width="1.5"/>
<line x1="539" y1="75.6" x2="535.4" y2="75.6" stroke="#000" stroke-width="1.5"/>
<line x1="57.5" y1="64.65" x2="61.1" y2="64.65" stroke="#000" stroke-width="1.5"/>
<line x1="539" y1="64.65" x2="535.4" y2="64.65" stroke="#000" stroke-width="1.5"/>
<line x1="57.5" y1="53.7" x2="61.1" y2="53.7" stroke="#000" stroke-width="1.5"/>
<line x1="539" y1="53.7" x2="535.4" y2="53.7" stroke="#000" stroke-width="1.5"/>
<line x1="57.5" y1="42.75" x2="64" y2="42.75" stroke="#000" stroke-width="1.5"/>
<line x1="539" y1="42.75" x2="532.5" y2="42.75" stroke="#000" stroke-width="1.5"/>
<line x1="57.5" y1="31.8" x2="61.1" y2="31.8" stroke="#000" stroke-width="1.5"/>
<line x1="539" y1="31.8" x2="535.4" y2="31.8" stroke="#000" stroke-width="1.5"/>
<line x1="57.5" y1="20.85" x2="61.1" y2="20.85" stroke="#000" stroke-width="1.5"/>
<line x1="539" y1="20.85" x2="535.4" y2="20.85" stroke="#000" stroke-width="1.5"/>
<line x1="57.5" y1="340.53" x2="61.1" y2="340.53" stroke="#000" stroke-width="1.5"/>
<line x1="539" y1="340.53" x2="535.4" y2="340.53" stroke="#000" stroke-width="1.5"/>
<line x1="57.5" y1="326.57" x2="61.1" y2="326.57" stroke="#000" stroke-width="1.5"/>
<line x1="539" y1="326.57" x2="535.4" y2="326.57" stroke="#000" stroke-width="1.5"/>
<line x1="57.5" y1="312.61" x2="64" y2="312.61" stroke="#000" stroke-width="1.5"/>
<line x1="539" y1="312.61" x2="532.5" y2="312.61" stroke="#000" stroke-width="1.5"/>
<line x1="57.5" y1="298.64" x2="61.1" y2="298.64" stroke="#000" stroke-width="1.5"/>
<line x1="539" y1="298.64" x2="535.4" y2="298.64" stroke="#000" stroke-width="1.5"/>
<line x1="57.5" y1="284.68" x2="61.1" y2="284.68" stroke="#000" stroke-width="1.5"/>
<line x1="539" y1="284.68" x2="535.4" y2="284.68" stroke="#000" stroke-width="1.5"/>
<line x1="57.5" y1="270.71" x2="61.1" y2="270.71" stroke="#000" stroke-width="1.5"/>
<line x1="539" y1="270.71" x2="535.4" y2="270.71" stroke="#000" stroke-width="1.5"/>
<line x1="57.5" y1="256.75" x2="64" y2="256.75" stroke="#000" stroke-width="1.5"/>
<line x1="539" y1="256.75" x2="532.5" y2="256.75" stroke="#000" stroke-width="1.5"/>
<line x1="57.5" y1="242.78" x2="61.1" y2="242.78" stroke="#000" stroke-width="1.5"/>
<line x1="539" y1="242.78" x2="535.4" y2="242.78" stroke="#000" stroke-width="1.5"/>
<line x1="57.5" y1="228.81" x2="61.1" y2="228.81" stroke="#000" stroke-width="1.5"/>
<line x1="539" y1="228.81" x2="535.4" y2="228.81" stroke="#000" stroke-width="1.5"/>
<line x1="57.5" y1="214.85" x2="61.1" y2="214.85" stroke="#000" stroke-width="1.5"/>
<line x1="539" y1="214.85" x2="535.4" y2="214.85" stroke="#000" stroke-width="1.5"/>
<line x1="57.5" y1="200.88" x2="64" y2="200.88" stroke="#000" stroke-width="1.5"/>
<line x1="539" y1="200.88" x2="532.5" y2="200.88" stroke="#000" stroke-width="1.5"/>
<rect x="57.5" y="9.9" width="481.5" height="174.95" fill="none" stroke="#000" stroke-width="1.8"/>
<rect x="57.5" y="187.2" width="481.5" height="167.3" fill="none" stroke="#000" stroke-width="1.8"/>
<text transform="translate(55,178.75) scale(1,1.04)" font-size="14" text-anchor="end" font-family="Liberation Sans, sans-serif" font-weight="bold" >0.6</text>
<text transform="translate(55,134.95) scale(1,1.04)" font-size="14" text-anchor="end" font-family="Liberation Sans, sans-serif" font-weight="bold" >0.8</text>
<text transform="translate(55,91.15) scale(1,1.04)" font-size="14" text-anchor="end" font-family="Liberation Sans, sans-serif" font-weight="bold" >1.0</text>
<text transform="translate(55,47.35) scale(1,1.04)" font-size="14" text-anchor="end" font-family="Liberation Sans, sans-serif" font-weight="bold" >1.2</text>
<text transform="translate(55,317.21) scale(1,1.04)" font-size="14" text-anchor="end" font-family="Liberation Sans, sans-serif" font-weight="bold" >0.8</text>
<text transform="translate(55,261.35) scale(1,1.04)" font-size="14" text-anchor="end" font-family="Liberation Sans, sans-serif" font-weight="bold" >1.0</text>
<text transform="translate(55,205.49) scale(1,1.04)" font-size="14" text-anchor="end" font-family="Liberation Sans, sans-serif" font-weight="bold" >1.2</text>
<text transform="translate(105.66,367.6) scale(1,1.04)" font-size="14" text-anchor="middle" font-family="Liberation Sans, sans-serif" font-weight="bold" >0.1</text>
<text transform="translate(165.86,367.6) scale(1,1.04)" font-size="14" text-anchor="middle" font-family="Liberation Sans, sans-serif" font-weight="bold" >0.2</text>
<text transform="translate(226.06,367.6) scale(1,1.04)" font-size="14" text-anchor="middle" font-family="Liberation Sans, sans-serif" font-weight="bold" >0.3</text>
<text transform="translate(286.26,367.6) scale(1,1.04)" font-size="14" text-anchor="middle" font-family="Liberation Sans, sans-serif" font-weight="bold" >0.4</text>
<text transform="translate(346.46,367.6) scale(1,1.04)" font-size="14" text-anchor="middle" font-family="Liberation Sans, sans-serif" font-weight="bold" >0.5</text>
<text transform="translate(406.66,367.6) scale(1,1.04)" font-size="14" text-anchor="middle" font-family="Liberation Sans, sans-serif" font-weight="bold" >0.6</text>
<text transform="translate(466.86,367.6) scale(1,1.04)" font-size="14" text-anchor="middle" font-family="Liberation Sans, sans-serif" font-weight="bold" >0.7</text>
<text transform="translate(527.06,367.6) scale(1,1.04)" font-size="14" text-anchor="middle" font-family="Liberation Sans, sans-serif" font-weight="bold" >0.8</text>
<text transform="translate(133.11,29.7) scale(1,1.04)" font-size="14" text-anchor="middle" font-family="Liberation Sans, sans-serif" font-weight="bold" >1</text>
<text transform="translate(130.01,206.6) scale(1,1.04)" font-size="14" text-anchor="middle" font-family="Liberation Sans, sans-serif" font-weight="bold" >1</text>
<text transform="translate(220.76,29.7) scale(1,1.04)" font-size="14" text-anchor="middle" font-family="Liberation Sans, sans-serif" font-weight="bold" >2</text>
<text transform="translate(214.55,206.6) scale(1,1.04)" font-size="14" text-anchor="middle" font-family="Liberation Sans, sans-serif" font-weight="bold" >2</text>
<text transform="translate(308.41,29.7) scale(1,1.04)" font-size="14" text-anchor="middle" font-family="Liberation Sans, sans-serif" font-weight="bold" >3</text>
<text transform="translate(299.1,206.6) scale(1,1.04)" font-size="14" text-anchor="middle" font-family="Liberation Sans, sans-serif" font-weight="bold" >3</text>
<text transform="translate(396.06,29.7) scale(1,1.04)" font-size="14" text-anchor="middle" font-family="Liberation Sans, sans-serif" font-weight="bold" >4</text>
<text transform="translate(383.64,206.6) scale(1,1.04)" font-size="14" text-anchor="middle" font-family="Liberation Sans, sans-serif" font-weight="bold" >4</text>
<text transform="translate(483.71,29.7) scale(1,1.04)" font-size="14" text-anchor="middle" font-family="Liberation Sans, sans-serif" font-weight="bold" >5</text>
<text transform="translate(468.19,206.6) scale(1,1.04)" font-size="14" text-anchor="middle" font-family="Liberation Sans, sans-serif" font-weight="bold" >5</text>
<text transform="translate(491,40.5) scale(1,1.0)" font-size="16" font-family="Liberation Sans, sans-serif" font-weight="bold" >V<tspan font-weight="normal">/</tspan>v<tspan font-size="11" dy="5.2">0</tspan></text>
<text transform="translate(491.3,217.9) scale(1,1.0)" font-size="16" font-family="Liberation Sans, sans-serif" font-weight="bold" >V<tspan font-weight="normal">/</tspan>v<tspan font-size="11" dy="5.2">0</tspan></text>
<text transform="translate(251,387.3) scale(1,1.04)" font-size="16" font-family="Liberation Sans, sans-serif" font-weight="bold" >(V<tspan font-weight="normal">/</tspan>v<tspan font-size="10.5" dy="4.6">0</tspan><tspan dy="-4.6">) </tspan><tspan font-weight="normal" dx="0.6">/</tspan><tspan dx="0.3"> Z</tspan><tspan font-size="10.5" dx="0.6" dy="-9.2">2<tspan font-weight="normal">/</tspan>3</tspan></text>
<text transform="translate(315.6,391.3) scale(1,1.04)" font-size="10.5" font-family="Liberation Sans, sans-serif" font-weight="bold" >HI</text>
<text transform="translate(23.3,242.2) rotate(-90) scale(1,1.0)" font-size="15.5" font-family="Liberation Sans, sans-serif" font-weight="bold" >SP</text>
<text transform="translate(28.6,220.6) rotate(-90) scale(1,1.0)" font-size="10" font-family="Liberation Sans, sans-serif" font-weight="bold" >e</text>
<text transform="translate(13.3,220) rotate(-90) scale(1,1.0)" font-size="10.2" font-family="Liberation Sans, sans-serif" font-weight="bold" >expt</text>
<text transform="translate(23.3,194) rotate(-90) scale(1,1.0)" font-size="15.5" font-family="Liberation Sans, sans-serif" font-weight="normal">/</text>
<text transform="translate(23.3,184.5) rotate(-90) scale(1,1.0)" font-size="15.5" font-family="Liberation Sans, sans-serif" font-weight="bold" >SP</text>
<text transform="translate(28.6,162) rotate(-90) scale(1,1.0)" font-size="10" font-family="Liberation Sans, sans-serif" font-weight="bold" >e</text>
<text transform="translate(13.4,161) rotate(-90) scale(1,0.97)" font-size="10.4" font-family="Liberation Sans, sans-serif" font-weight="bold" >SRIM</text>
<rect x="77.8" y="27.9" width="23.7" height="24.4" fill="#404040"/>
<rect x="74.1" y="24.9" width="22.5" height="23.2" fill="#fff" stroke="#333" stroke-width="1.2"/>
<text transform="translate(76.6,42.1) scale(1,0.96)" font-size="16" text-anchor="start" font-family="Liberation Sans, sans-serif" font-weight="bold" fill="#0b5c3b" stroke="#0b5c3b" stroke-width="0.25">Ar</text>
<rect x="79.3" y="204.4" width="17.1" height="23.7" fill="#404040"/>
<rect x="75.6" y="200.7" width="15.9" height="22.5" fill="#fff" stroke="#333" stroke-width="1.2"/>
<text transform="translate(78.3,217.5) scale(1,1.08)" font-size="15.6" text-anchor="start" font-family="Liberation Sans, sans-serif" font-weight="bold" fill="#961820" stroke="#961820" stroke-width="0">K</text>
<polygon points="438.5,132.6 443.4,137.5 438.5,142.4 433.6,137.5" fill="#a21fd0"/>
<text transform="translate(456,141.8) scale(1,1.0)" font-size="11.6" font-family="Liberation Sans, sans-serif" font-weight="bold" >Pape <tspan font-style="italic">et al.</tspan></text>
<rect x="435.8" y="150" width="5.4" height="5.4" fill="#f2ee00" stroke="#16701a" stroke-width="1.4"/>
<text transform="translate(456,156.7) scale(1,1.0)" font-size="11.6" font-family="Liberation Sans, sans-serif" font-weight="bold" >Giessel <tspan font-style="italic">et al.</tspan></text>
<polygon points="438.5,162.1 443.2,166.9 438.5,171.7 433.8,166.9" fill="#0f6d1e"/>
<polygon points="435.5,166.9 437.9,164.5 437.9,169.3" fill="#b5e6c6"/>
<text transform="translate(456,171.3) scale(1,1.0)" font-size="11.6" font-family="Liberation Sans, sans-serif" font-weight="bold" >Trzaska <tspan font-style="italic">et al.</tspan></text>
<rect x="308.45" y="147.95" width="7.7" height="7.7" fill="#17664a"/>
<text transform="translate(329.7,155.6) scale(1,1.0)" font-size="11.6" font-family="Liberation Sans, sans-serif" font-weight="bold" >Fastrup <tspan font-style="italic">et al.</tspan></text>
<polygon points="312.4,162.25 316.25,166.1 312.4,169.95 308.55,166.1" fill="#c3ea80" stroke="#0d6a14" stroke-width="1.5" stroke-linejoin="miter"/>
<text transform="translate(329.7,170.3) scale(1,1.0)" font-size="11.6" font-family="Liberation Sans, sans-serif" font-weight="bold" >Schulz &amp; Brandt</text>
<rect x="191.3" y="161.1" width="7" height="7.6" fill="#0b660f"/>
<rect x="195.2" y="162.6" width="1.7" height="4.6" fill="#e6ecb0"/>
<text transform="translate(212,169) scale(1,1.0)" font-size="11.6" font-family="Liberation Sans, sans-serif" font-weight="bold" >Lennard <tspan font-style="italic">et al.</tspan></text>
<polygon points="431.7,298.78 436.27,301.77 434.52,306.59 428.88,306.59 427.13,301.77" fill="#7a0505"/>
<text transform="translate(449,307.7) scale(1,1.0)" font-size="11.6" font-family="Liberation Sans, sans-serif" font-weight="bold" >Fastrup <tspan font-style="italic">et al.</tspan></text>
<polygon points="431.7,314.64 435.88,317.38 434.29,321.8 429.11,321.8 427.52,317.38" fill="#f6e600" stroke="#8c0000" stroke-width="1.6"/>
<text transform="translate(449,322.4) scale(1,1.0)" font-size="11.6" font-family="Liberation Sans, sans-serif" font-weight="bold" >Sharma <tspan font-style="italic">et al.</tspan></text>
<polygon points="431.7,328.96 436.07,331.82 434.4,336.45 429,336.45 427.33,331.82" fill="#a8106c"/>
<polygon points="429.6,331 431.7,330 431.7,335.4 429.8,335.4" fill="#f4c8dc"/>
<text transform="translate(449,336.6) scale(1,1.0)" font-size="11.6" font-family="Liberation Sans, sans-serif" font-weight="bold" >Lennard <tspan font-style="italic">et al.</tspan></text>
</svg>
</body></html>
